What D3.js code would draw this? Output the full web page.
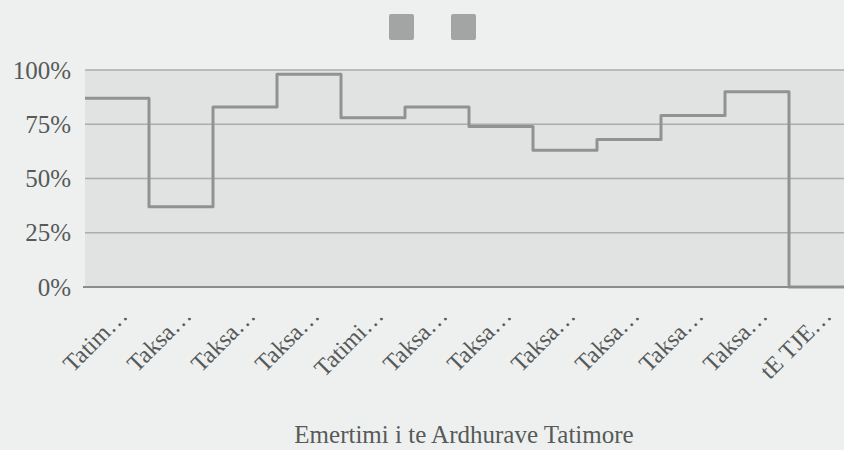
<!DOCTYPE html>
<html>
<head>
<meta charset="utf-8">
<script src="https://cdn.jsdelivr.net/npm/d3@7"></script>
<style>
  body { margin: 0; background: #eef0ef; }
  svg { display: block; }
  text { font-family: "Liberation Serif", "DejaVu Serif", serif; fill: #565a59; }
</style>
</head>
<body>
<div id="chart_div"></div>
<script>
// categories (truncated labels as shown on the axis)
var categories = ["Tatim…", "Taksa…", "Taksa…", "Taksa…", "Tatimi…", "Taksa…",
                  "Taksa…", "Taksa…", "Taksa…", "Taksa…", "Taksa…", "tE TJE…"];

// two stacked series (100% stacked), values in percent
var seriesA = [87, 37, 83, 98, 78, 83, 74, 63, 68, 79, 90, 0];
var seriesB = [13, 63, 17, 2, 22, 17, 26, 37, 32, 21, 10, 100];
var seriesNames = ["", ""];

var yTicks = [0, 0.25, 0.5, 0.75, 1];
var axisTitle = "Emertimi i te Ardhurave Tatimore";

var width = 844;
var height = 450;
var margin = { top: 70, left: 85, bottom: 163 };
var plotRight = 853;

var svg = d3.select("#chart_div").append("svg")
  .attr("width", width)
  .attr("height", height);

// build table for d3.stack
var table = categories.map(function (c, i) {
  return { idx: i, a: seriesA[i], b: seriesB[i] };
});

var stack = d3.stack().keys(["a", "b"]).offset(d3.stackOffsetExpand);
var stacked = stack(table);

var x = d3.scaleBand()
  .domain(d3.range(categories.length))
  .range([margin.left, plotRight])
  .padding(0);

var y = d3.scaleLinear()
  .domain([0, 1])
  .range([height - margin.bottom, margin.top]);

// x position for step points; the extra last point closes the final step
function xPos(i) {
  return i < categories.length ? x(i) : x.range()[1];
}

//areas
var area = d3.area()
  .curve(d3.curveStepAfter)
  .x(function (d, i) { return xPos(i); })
  .y0(function (d) { return y(d[0]); })
  .y1(function (d) { return y(d[1]); });

stacked.forEach(function (s) {
  var pts = s.slice();
  pts.push(s[s.length - 1]);
  svg.append("path")
    .attr("d", area(pts))
    .attr("fill", "#e0e3e2");
});

//gridlines
svg.append("g")
  .selectAll("line")
  .data(yTicks.filter(function (t) { return t > 0; }))
  .join("line")
  .attr("x1", margin.left)
  .attr("x2", plotRight)
  .attr("y1", function (d) { return y(d); })
  .attr("y2", function (d) { return y(d); })
  .attr("stroke", "#aaadac")
  .attr("stroke-width", 1.5);

//step line on top of first series
var firstPts = stacked[0].slice();
firstPts.push(stacked[0][stacked[0].length - 1]);

var line = d3.line()
  .curve(d3.curveStepAfter)
  .x(function (d, i) { return xPos(i); })
  .y(function (d) { return y(d[1]); });

svg.append("path")
  .attr("d", line(firstPts))
  .attr("fill", "none")
  .attr("stroke", "#8f9392")
  .attr("stroke-width", 3)
  .attr("stroke-linejoin", "round");

//baseline
svg.append("line")
  .attr("x1", margin.left - 2)
  .attr("x2", plotRight)
  .attr("y1", y(0))
  .attr("y2", y(0))
  .attr("stroke", "#898d8c")
  .attr("stroke-width", 2);

//y axis labels
var yAxis = svg.append("g")
  .attr("transform", "translate(" + (margin.left - 14) + ",0)")
  .call(d3.axisLeft(y).tickValues(yTicks).tickFormat(d3.format(".0%")).tickSize(0).tickPadding(0));
yAxis.select(".domain").remove();
yAxis.selectAll("text")
  .style("font-size", "25px")
  .style("fill", "#565a59")
  .style("font-family", "Liberation Serif, serif");

//x labels, rotated
svg.append("g")
  .selectAll("text")
  .data(categories)
  .join("text")
  .attr("transform", function (d, i) {
    return "translate(" + (x(i) + x.bandwidth() / 2 + 12) + "," + (y(0) + 30) + ") rotate(-45)";
  })
  .attr("text-anchor", "end")
  .style("font-size", "24px")
  .text(function (d) { return d; });

//axis title
svg.append("text")
  .attr("x", 464)
  .attr("y", 443)
  .attr("text-anchor", "middle")
  .style("font-size", "25px")
  .text(axisTitle);

//legend (two swatches without labels)
svg.append("g")
  .selectAll("rect")
  .data(seriesNames)
  .join("rect")
  .attr("x", function (d, i) { return 389 + i * 62; })
  .attr("y", 14)
  .attr("width", 25)
  .attr("height", 26)
  .attr("rx", 2)
  .attr("fill", "#a2a5a4");
</script>
</body>
</html>
